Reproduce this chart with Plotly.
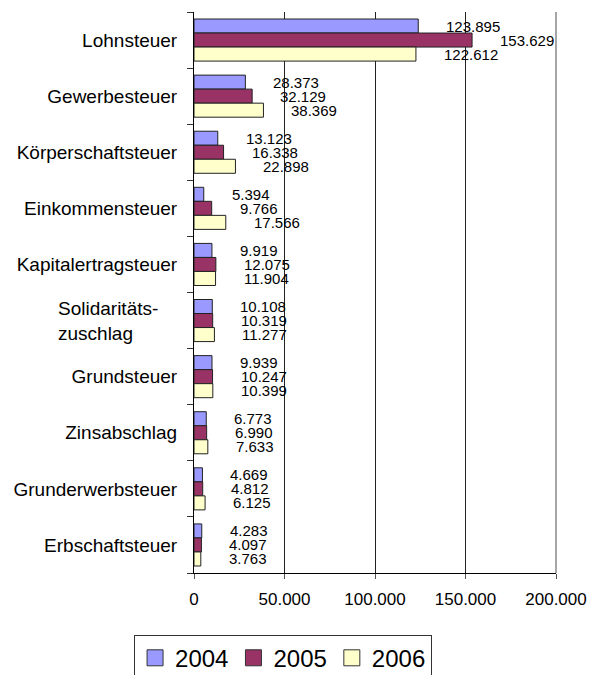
import plotly.graph_objects as go

categories = ["Lohnsteuer", "Gewerbesteuer", "Körperschaftsteuer", "Einkommensteuer",
              "Kapitalertragsteuer", "Solidaritätszuschlag", "Grundsteuer",
              "Zinsabschlag", "Grunderwerbsteuer", "Erbschaftsteuer"]
tick_labels = ["Lohnsteuer", "Gewerbesteuer", "Körperschaftsteuer", "Einkommensteuer",
               "Kapitalertragsteuer", "", "Grundsteuer",
               "Zinsabschlag", "Grunderwerbsteuer", "Erbschaftsteuer"]
wrapped_label = "Solidaritäts-<br>zuschlag"
years = ["2004", "2005", "2006"]
v2004 = [123895, 28373, 13123, 5394, 9919, 10108, 9939, 6773, 4669, 4283]
v2005 = [153629, 32129, 16338, 9766, 12075, 10319, 10247, 6990, 4812, 4097]
v2006 = [122612, 38369, 22898, 17566, 11904, 11277, 10399, 7633, 6125, 3763]
series = [v2004, v2005, v2006]
colors = ["#9999FF", "#993366", "#FFFFCC"]
x_ticks = [0, 50000, 100000, 150000, 200000]

def fmt(v):
    return f"{v:,}".replace(",", ".")

fig = go.Figure()
for name, vals, col in zip(years, series, colors):
    fig.add_trace(go.Bar(
        y=categories, x=vals, name=name, orientation="h",
        marker=dict(color=col, line=dict(color="#222222", width=1)),
        showlegend=False,
    ))
    fig.add_trace(go.Scatter(
        x=[None], y=[None], mode="markers", name=name,
        marker=dict(symbol="square", size=22, color=col,
                    line=dict(color="#333333", width=1)),
        showlegend=True,
    ))

annotations = []
shifts = [14, 0, -14]
for vals, ys in zip(series, shifts):
    for cat, v in zip(categories, vals):
        annotations.append(dict(
            x=v, y=cat, xref="x", yref="y", text=fmt(v), showarrow=False,
            xanchor="left", yanchor="middle", xshift=26, yshift=ys,
            font=dict(family="Liberation Sans, Arial, sans-serif", size=15, color="black"),
        ))
# wrapped, left-aligned category label
annotations.append(dict(
    x=0, y=categories[5], xref="paper", yref="y", text=wrapped_label,
    showarrow=False, xanchor="right", yanchor="middle", align="left",
    xshift=-34, yshift=0,
    font=dict(family="Liberation Sans, Arial, sans-serif", size=19, color="black"),
))

# the page places the figure 8px from the top-left corner, margins compensate
fig.update_layout(
    width=595, height=675,
    margin=dict(l=186, r=47, t=4, b=110, autoexpand=False),
    barmode="group", bargap=0.25, bargroupgap=0,
    plot_bgcolor="white", paper_bgcolor="white",
    separators=",.",
    font=dict(family="Liberation Sans, Arial, sans-serif", size=19, color="black"),
    annotations=annotations,
    legend=dict(
        orientation="h", x=0.246, xanchor="center", y=-0.110, yanchor="top",
        bordercolor="#333333", borderwidth=1,
        font=dict(size=24, color="black"),
        tracegroupgap=0, itemwidth=30,
    ),
)
fig.update_xaxes(
    range=[0, 200000], tickvals=x_ticks, tickformat=",d",
    showgrid=True, gridcolor="#222222", gridwidth=1,
    showline=True, linecolor="black", linewidth=1,
    ticks="outside", ticklen=5, tickcolor="#555555",
    ticklabelstandoff=6, zeroline=False,
    tickfont=dict(size=17),
)
fig.update_yaxes(
    autorange="reversed", type="category",
    tickvals=categories, ticktext=tick_labels,
    showline=True, linecolor="black", linewidth=1,
    ticks="outside", ticklen=6, tickson="boundaries", tickcolor="#333333",
    ticklabelstandoff=12, showgrid=False,
    tickfont=dict(size=19),
)
fig.add_shape(type="line", xref="paper", yref="paper", x0=1, x1=1, y0=0, y1=1,
              line=dict(color="#888888", width=1.5))

fig.write_html("out.html")
